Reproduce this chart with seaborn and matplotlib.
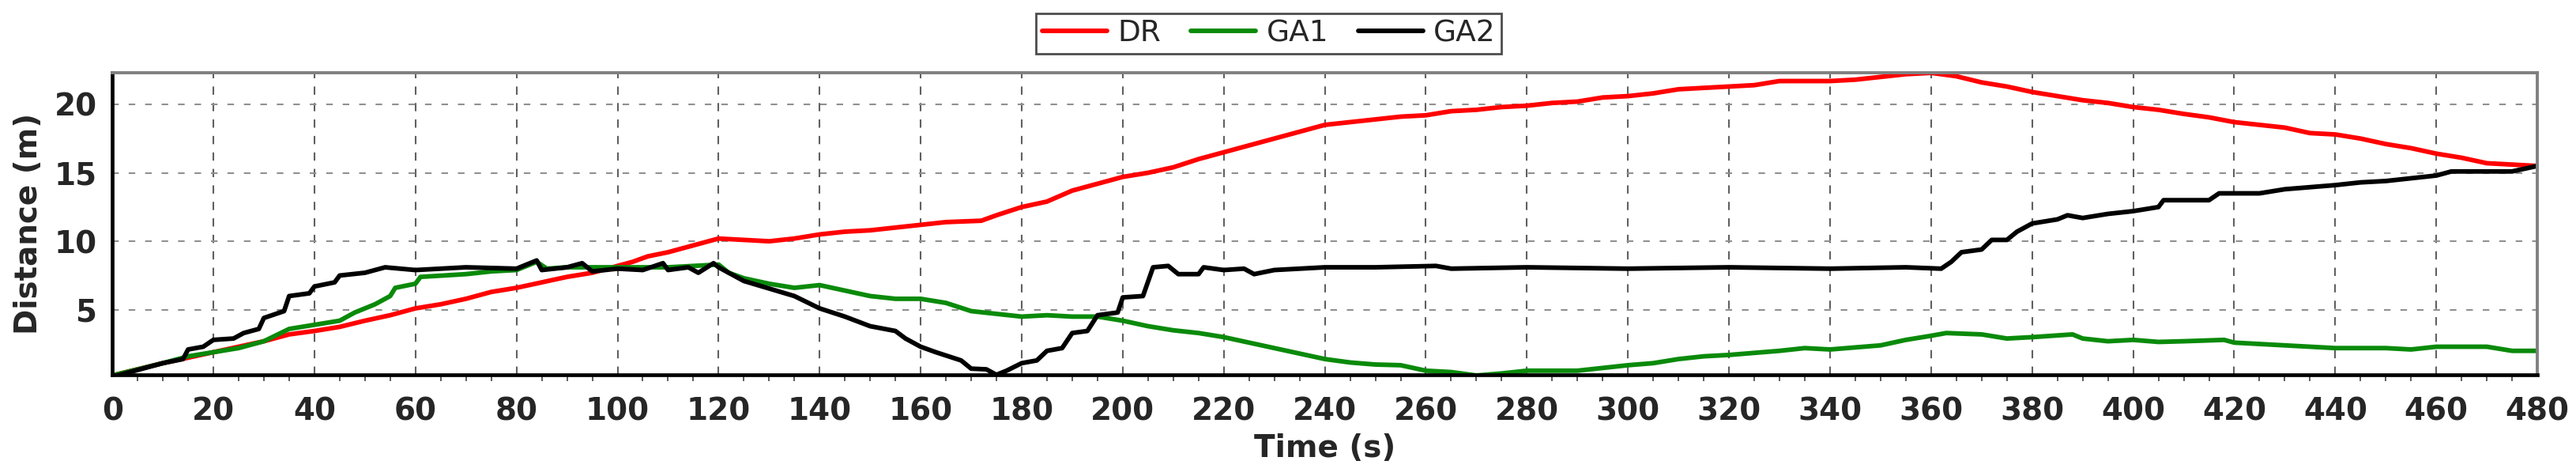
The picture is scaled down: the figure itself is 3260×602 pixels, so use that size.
import matplotlib
matplotlib.use("Agg")
import matplotlib.pyplot as plt
from matplotlib.ticker import MultipleLocator
import seaborn as sns

# time (s) / distance (m), one pair of lists per series
dr_t = [0, 10, 20, 30, 35, 40, 45, 50, 55, 60, 65, 70, 75, 80, 85, 90, 95, 100,
        103, 106, 110, 115, 120, 125, 130, 135, 140, 145, 150, 155, 160, 165,
        172, 175, 180, 185, 190, 195, 200, 205, 210, 215, 220, 225, 230, 235,
        240, 245, 250, 255, 260, 265, 270, 275, 280, 285, 290, 295, 300, 305,
        310, 315, 320, 325, 330, 340, 345, 350, 355, 360, 365, 370, 375, 380,
        385, 390, 395, 400, 405, 410, 415, 420, 425, 430, 435, 440, 445, 450,
        455, 460, 465, 470, 475, 480]
dr_d = [0.2, 1.1, 1.9, 2.7, 3.2, 3.45, 3.75, 4.2, 4.6, 5.1, 5.4, 5.8, 6.3, 6.6,
        7.0, 7.4, 7.7, 8.2, 8.5, 8.9, 9.2, 9.7, 10.2, 10.1, 10.0, 10.2, 10.5,
        10.7, 10.8, 11.0, 11.2, 11.4, 11.5, 11.9, 12.5, 12.9, 13.7, 14.2, 14.7,
        15.0, 15.4, 16.0, 16.5, 17.0, 17.5, 18.0, 18.5, 18.7, 18.9, 19.1, 19.2,
        19.5, 19.6, 19.8, 19.9, 20.1, 20.2, 20.5, 20.6, 20.8, 21.1, 21.2, 21.3,
        21.4, 21.7, 21.7, 21.8, 22.0, 22.2, 22.3, 22.05, 21.6, 21.3, 20.9, 20.6,
        20.3, 20.1, 19.8, 19.6, 19.3, 19.05, 18.7, 18.5, 18.3, 17.9, 17.8, 17.5,
        17.1, 16.8, 16.4, 16.1, 15.7, 15.6, 15.5]

ga1_t = [0, 10, 15, 20, 25, 30, 35, 40, 45, 48, 52, 55, 56, 60, 61, 70, 75, 80,
         84, 86, 90, 100, 110, 120, 122, 125, 130, 135, 140, 145, 150, 155, 160,
         165, 170, 175, 180, 185, 190, 195, 200, 205, 210, 215, 220, 225, 230,
         235, 240, 245, 250, 255, 260, 265, 270, 275, 280, 290, 295, 300, 305,
         310, 315, 320, 325, 330, 335, 340, 350, 355, 360, 363, 370, 375, 380,
         388, 390, 395, 400, 405, 410, 418, 420, 425, 430, 440, 450, 455, 460,
         470, 475, 480]
ga1_d = [0.2, 1.1, 1.6, 1.9, 2.2, 2.7, 3.6, 3.9, 4.2, 4.8, 5.4, 6.0, 6.6, 6.9,
         7.4, 7.6, 7.8, 7.9, 8.5, 8.0, 8.1, 8.1, 8.1, 8.3, 7.7, 7.3, 6.9, 6.6,
         6.8, 6.4, 6.0, 5.8, 5.8, 5.5, 4.9, 4.7, 4.5, 4.6, 4.5, 4.5, 4.2, 3.8,
         3.5, 3.3, 3.0, 2.6, 2.2, 1.8, 1.4, 1.15, 1.0, 0.95, 0.55, 0.45, 0.2,
         0.35, 0.55, 0.55, 0.75, 0.95, 1.1, 1.4, 1.6, 1.7, 1.85, 2.0, 2.2, 2.1,
         2.4, 2.8, 3.1, 3.3, 3.2, 2.9, 3.0, 3.2, 2.9, 2.7, 2.8, 2.65, 2.7, 2.8,
         2.6, 2.5, 2.4, 2.2, 2.2, 2.1, 2.3, 2.3, 2.0, 2.0]

ga2_t = [0, 5, 10, 14, 15, 18, 20, 24, 26, 29, 30, 34, 35, 39, 40, 44, 45, 50,
         54, 60, 65, 70, 80, 84, 85, 90, 93, 95, 100, 105, 109, 110, 114, 116,
         119, 120, 125, 130, 135, 140, 145, 150, 155, 157, 160, 163, 168, 170,
         173, 175, 177, 180, 183, 185, 188, 190, 193, 195, 199, 200, 204, 206,
         209, 211, 215, 216, 220, 224, 226, 230, 235, 240, 250, 262, 265, 280,
         300, 320, 340, 355, 362, 364, 366, 370, 372, 375, 377, 380, 385, 387,
         390, 395, 400, 405, 406, 410, 415, 417, 425, 430, 440, 445, 450, 455,
         460, 463, 475, 480]
ga2_d = [0.1, 0.6, 1.1, 1.4, 2.1, 2.3, 2.8, 2.9, 3.3, 3.6, 4.4, 4.9, 6.0, 6.2,
         6.7, 7.0, 7.5, 7.7, 8.1, 7.9, 8.0, 8.1, 8.0, 8.6, 7.9, 8.1, 8.4, 7.8,
         8.0, 7.9, 8.4, 7.9, 8.1, 7.7, 8.4, 8.1, 7.1, 6.55, 6.0, 5.1, 4.5, 3.8,
         3.45, 2.9, 2.3, 1.9, 1.3, 0.7, 0.65, 0.25, 0.55, 1.1, 1.3, 2.0, 2.2,
         3.3, 3.45, 4.6, 4.8, 5.9, 6.0, 8.1, 8.2, 7.6, 7.6, 8.1, 7.9, 8.0, 7.6,
         7.9, 8.0, 8.1, 8.1, 8.2, 8.0, 8.1, 8.0, 8.1, 8.0, 8.1, 8.0, 8.5, 9.2,
         9.4, 10.1, 10.1, 10.7, 11.3, 11.6, 11.9, 11.7, 12.0, 12.2, 12.5, 13.0,
         13.0, 13.0, 13.5, 13.5, 13.8, 14.1, 14.3, 14.4, 14.6, 14.8, 15.1, 15.1,
         15.5]

series = [("DR", dr_t, dr_d, "#ff0000"),
          ("GA1", ga1_t, ga1_d, "#0a8a0a"),
          ("GA2", ga2_t, ga2_d, "#000000")]

sns.set_style("white")
plt.rcParams['font.family'] = ['DejaVu Sans']

fig = plt.figure(figsize=(32.6, 6.02), dpi=100)
ax = fig.add_axes([0.0436, 0.2126, 0.9414, 0.6344])

for name, t, d, col in series:
    assert len(t) == len(d), name
    sns.lineplot(x=t, y=d, ax=ax, color=col, lw=4.2, label=name,
                 sort=False, estimator=None)

ax.set_xlim(0, 480)
ax.set_ylim(0.25, 22.3)
ax.xaxis.set_major_locator(MultipleLocator(20))
ax.xaxis.set_minor_locator(MultipleLocator(5))
ax.set_yticks([5, 10, 15, 20])

ax.grid(axis='x', which='major', color='#606060', lw=1.5, linestyle=(0, (5, 5)))
ax.grid(axis='y', which='major', color='#909090', lw=1.5, linestyle=(0, (4, 6)))

for side in ['left', 'bottom']:
    ax.spines[side].set_color('black')
    ax.spines[side].set_linewidth(3.4)
for side in ['top', 'right']:
    ax.spines[side].set_color('#808080')
    ax.spines[side].set_linewidth(2.8)

ax.tick_params(axis='x', which='major', direction='out', length=10, width=1.4,
               color='#404040', pad=10, labelsize=28)
ax.tick_params(axis='x', which='minor', direction='out', length=6, width=1.2,
               color='#404040', bottom=True)
ax.tick_params(axis='y', which='both', length=0, pad=14, labelsize=28)
for lab in ax.get_xticklabels() + ax.get_yticklabels():
    lab.set_fontweight('bold')

ax.set_xlabel("Time (s)", fontsize=28, fontweight='bold', labelpad=6)
ax.set_ylabel("Distance (m)", fontsize=28, fontweight='bold', labelpad=10)

ax.legend_.remove()
handles, labels = ax.get_legend_handles_labels()
leg = fig.legend(handles, labels, loc='center', bbox_to_anchor=(0.4926, 0.930),
                 ncol=3, fontsize=27, frameon=True, fancybox=False,
                 edgecolor='#202020', handlelength=2.2, handletextpad=0.35,
                 columnspacing=1.0, borderpad=0.2)
leg.get_frame().set_linewidth(2.0)

fig.savefig("out.png", dpi=100)
